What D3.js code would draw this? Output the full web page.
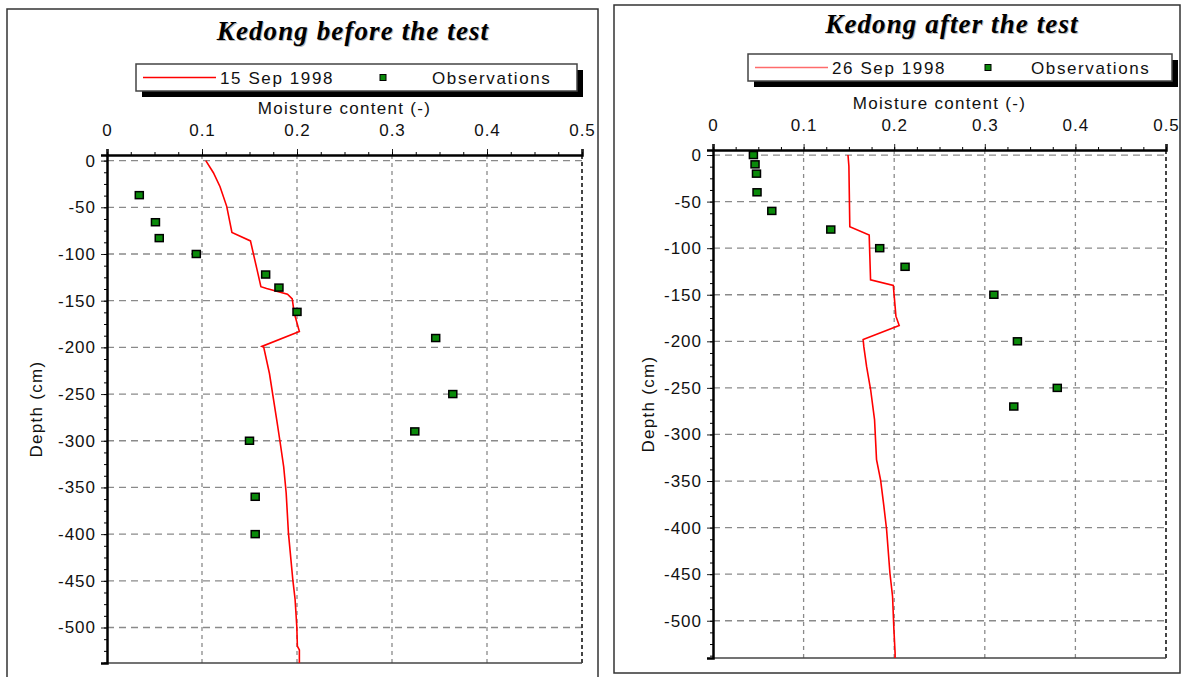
<!DOCTYPE html>
<html>
<head>
<meta charset="utf-8">
<script src="https://cdn.jsdelivr.net/npm/d3@7"></script>
<style>
  body { margin: 0; background: #fff; }
  svg { display: block; }
  text { font-family: "Liberation Sans", Arial, sans-serif; fill: #111; }
</style>
</head>
<body>
<div id="chart"></div>
<script>
// Moisture profiles, Kedong site

// axis ticks
const moistureTicks = [0, 0.1, 0.2, 0.3, 0.4, 0.5];
const depthTicks = [0, -50, -100, -150, -200, -250, -300, -350, -400, -450, -500];

// before the test - simulated profile (15 Sep 1998)
const beforeLineMoisture = [0.104, 0.112, 0.119, 0.126, 0.1315, 0.151, 0.158, 0.162, 0.168, 0.190, 0.195, 0.197, 0.2025, 0.163, 0.165, 0.171, 0.1787, 0.182, 0.186, 0.1886, 0.191, 0.1956, 0.198, 0.1998, 0.2004, 0.2025, 0.2025];
const beforeLineDepth = [0, -13, -28, -49, -77, -86, -117, -135, -137, -143, -148, -163, -183, -199, -200, -228, -278, -300, -328, -356, -399, -449, -470, -499, -520, -524, -538];

// before the test - observations
const beforeObsMoisture = [0.034, 0.051, 0.055, 0.094, 0.167, 0.181, 0.200, 0.346, 0.364, 0.324, 0.150, 0.156, 0.156];
const beforeObsDepth = [-37, -66, -83, -100, -122, -136, -162, -190, -250, -290, -300, -360, -400];

// after the test - simulated profile (26 Sep 1998)
const afterLineMoisture = [0.149, 0.150, 0.151, 0.1724, 0.1739, 0.199, 0.2019, 0.2055, 0.1657, 0.1665, 0.1695, 0.174, 0.1783, 0.1805, 0.185, 0.1886, 0.1916, 0.1953, 0.1982, 0.1997, 0.201, 0.201];
const afterLineDepth = [0, -12, -77, -86, -134, -140, -173, -183, -198, -206, -227, -252, -284, -327, -349, -377, -402, -449, -474, -510, -535, -540];

// after the test - observations
const afterObsMoisture = [0.0446, 0.0464, 0.048, 0.0486, 0.0649, 0.130, 0.184, 0.212, 0.310, 0.336, 0.380, 0.332];
const afterObsDepth = [0, -10, -20, -40, -60, -80, -100, -120, -150, -200, -250, -270];

const W = 1185, H = 677;
const svg = d3.select('#chart').append('svg')
    .attr('width', W).attr('height', H);

svg.append('rect').attr('width', W).attr('height', H).attr('fill', '#fff');

const labelFont = '17px';
const labelSpacing = '1.3px';

function drawPanel(cfg) {
    const g = svg.append('g');

    // outer frame
    g.append('rect')
        .attr('x', cfg.frame[0]).attr('y', cfg.frame[1])
        .attr('width', cfg.frame[2]).attr('height', cfg.frame[3])
        .attr('fill', 'none').attr('stroke', '#333').attr('stroke-width', 1.5);

    // title (slight emboss)
    [['#bbb', 1], ['#000', 0]].forEach(([col, off]) => {
        g.append('text')
            .attr('x', cfg.titleX + off).attr('y', cfg.titleY + off)
            .attr('text-anchor', 'middle')
            .style('font-family', '"Liberation Serif", "Times New Roman", serif')
            .style('font-weight', 'bold').style('font-style', 'italic')
            .style('font-size', '27px').style('letter-spacing', '1.1px')
            .style('fill', col)
            .text(cfg.title);
    });

    // legend with drop shadow
    const lg = cfg.legend;
    g.append('rect')
        .attr('x', lg.x + 6).attr('y', lg.y + 6)
        .attr('width', lg.w).attr('height', lg.h)
        .attr('fill', '#000');
    g.append('rect')
        .attr('x', lg.x).attr('y', lg.y)
        .attr('width', lg.w).attr('height', lg.h)
        .attr('fill', '#fff').attr('stroke', '#444').attr('stroke-width', 1.5);
    const ly = lg.y + lg.h / 2;
    g.append('line')
        .attr('x1', lg.x + 7).attr('x2', lg.x + 80)
        .attr('y1', ly).attr('y2', ly)
        .attr('stroke', cfg.legendLineColor).attr('stroke-width', 1.5);
    g.append('text')
        .attr('x', lg.x + 84).attr('y', ly + 6)
        .style('font-size', labelFont).style('letter-spacing', '1.6px')
        .text(cfg.lineLabel);
    g.append('rect')
        .attr('x', lg.x + lg.sq - 3).attr('y', ly - 3)
        .attr('width', 6).attr('height', 6)
        .attr('fill', '#0a8a0a').attr('stroke', '#000').attr('stroke-width', 1);
    g.append('text')
        .attr('x', lg.x + lg.obs).attr('y', ly + 6)
        .style('font-size', labelFont).style('letter-spacing', '1.6px')
        .text('Observations');

    const p = cfg.plot;
    const x = d3.scaleLinear().domain([0, 0.5]).range([p.left, p.right]);
    const y = d3.scaleLinear().domain(cfg.yDomain).range([p.top, p.bottom]);

    // grid
    g.append('g').selectAll('line')
        .data(depthTicks)
        .join('line')
        .attr('x1', p.left).attr('x2', p.right)
        .attr('y1', d => y(d)).attr('y2', d => y(d))
        .attr('stroke', '#8a8a8a').attr('stroke-width', 1.3)
        .attr('stroke-dasharray', '7,5');
    g.append('g').selectAll('line')
        .data(moistureTicks.slice(1, 5))
        .join('line')
        .attr('x1', d => x(d)).attr('x2', d => x(d))
        .attr('y1', p.top).attr('y2', p.bottom)
        .attr('stroke', '#8a8a8a').attr('stroke-width', 1.3)
        .attr('stroke-dasharray', '4,4');
    // right edge dashed
    g.append('line')
        .attr('x1', x(0.5)).attr('x2', x(0.5))
        .attr('y1', p.top).attr('y2', p.bottom)
        .attr('stroke', '#444').attr('stroke-width', 2)
        .attr('stroke-dasharray', '4,3');
    // bottom edge
    g.append('line')
        .attr('x1', p.left).attr('x2', x(0.5))
        .attr('y1', p.bottom).attr('y2', p.bottom)
        .attr('stroke', '#444').attr('stroke-width', 1.5);

    // top axis
    const xAxis = d3.axisTop(x).tickValues(moistureTicks)
        .tickFormat(d => d === 0 ? '0' : d3.format('.1f')(d))
        .tickSize(6).tickPadding(13);
    const xg = g.append('g').attr('transform', `translate(0,${p.top})`).call(xAxis);
    const xMinor = d3.axisTop(x).tickValues(d3.range(0, 0.5001, 0.025)).tickSize(3).tickFormat('');
    g.append('g').attr('transform', `translate(0,${p.top})`).call(xMinor)
        .call(s => s.select('.domain').remove());
    xg.select('.domain').attr('stroke', '#000').attr('stroke-width', 2.5);

    // left axis (plain hyphen for negatives, as in the original)
    const yAxis = d3.axisLeft(y).tickValues(depthTicks)
        .tickFormat(d => String(d))
        .tickSize(6).tickPadding(5);
    const yg = g.append('g').attr('transform', `translate(${p.left},0)`).call(yAxis);
    const yMinor = d3.axisLeft(y).tickValues(d3.range(0, -538, -12.5)).tickSize(3).tickFormat('');
    g.append('g').attr('transform', `translate(${p.left},0)`).call(yMinor)
        .call(s => s.select('.domain').remove());
    yg.select('.domain').attr('stroke', '#000').attr('stroke-width', 2.5);

    [xg, yg].forEach(a => {
        a.selectAll('text').style('font-size', labelFont).style('fill', '#111')
            .style('letter-spacing', '1px')
            .style('font-family', '"Liberation Sans", Arial, sans-serif');
        a.selectAll('.tick line').attr('stroke', '#222');
    });

    // axis titles
    g.append('text')
        .attr('x', (p.left + p.right) / 2).attr('y', p.top - 41)
        .attr('text-anchor', 'middle')
        .style('font-size', labelFont).style('letter-spacing', labelSpacing)
        .text('Moisture content (-)');
    g.append('text')
        .attr('transform', `translate(${cfg.depthLabelX},${(p.top + p.bottom) / 2}) rotate(-90)`)
        .attr('text-anchor', 'middle')
        .style('font-size', labelFont).style('letter-spacing', labelSpacing)
        .text('Depth (cm)');

    // simulated profile
    const lineData = cfg.lineMoisture.map((m, i) => [m, cfg.lineDepth[i]]);
    g.append('path')
        .datum(lineData)
        .attr('fill', 'none')
        .attr('stroke', '#f00')
        .attr('stroke-width', 1.6)
        .attr('d', d3.line().x(d => x(d[0])).y(d => y(d[1])));

    // observations
    const obs = cfg.obsMoisture.map((m, i) => [m, cfg.obsDepth[i]]);
    g.append('g').selectAll('rect')
        .data(obs)
        .join('rect')
        .attr('x', d => x(d[0]) - 4).attr('y', d => y(d[1]) - 3.5)
        .attr('width', 8).attr('height', 7)
        .attr('fill', '#0a8a0a')
        .attr('stroke', '#000').attr('stroke-width', 1.5);
}

drawPanel({
    frame: [7, 9, 591, 690],
    title: 'Kedong before the test',
    titleX: 353, titleY: 40,
    legend: { x: 136, y: 64, w: 441, h: 27, sq: 247, obs: 296 },
    legendLineColor: '#f00',
    lineLabel: '15 Sep 1998',
    plot: { left: 107, right: 582, top: 155, bottom: 663 },
    yDomain: [6, -538],
    depthLabelX: 42,
    lineMoisture: beforeLineMoisture, lineDepth: beforeLineDepth,
    obsMoisture: beforeObsMoisture, obsDepth: beforeObsDepth
});

drawPanel({
    frame: [614, 5, 566, 668],
    title: 'Kedong after the test',
    titleX: 952, titleY: 33,
    legend: { x: 748, y: 54, w: 424, h: 27, sq: 240, obs: 283 },
    legendLineColor: '#ff6b6b',
    lineLabel: '26 Sep 1998',
    plot: { left: 713, right: 1166, top: 150, bottom: 658 },
    yDomain: [5.4, -540],
    depthLabelX: 654,
    lineMoisture: afterLineMoisture, lineDepth: afterLineDepth,
    obsMoisture: afterObsMoisture, obsDepth: afterObsDepth
});
</script>
</body>
</html>
